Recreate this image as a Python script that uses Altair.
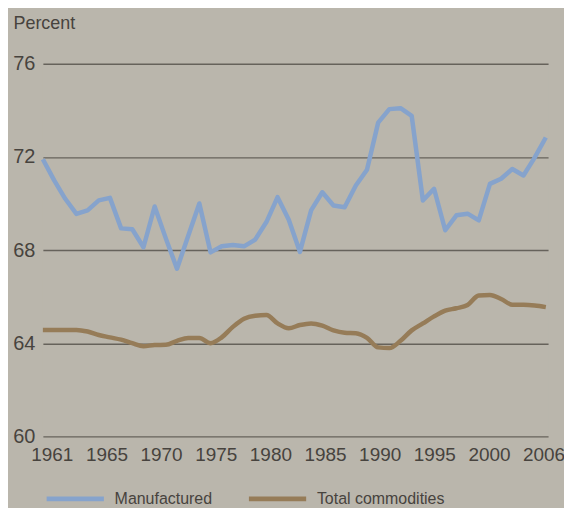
import altair as alt
import pandas as pd

years = list(range(1961, 2007))

manufactured = [
    71.9, 71.0, 70.2, 69.55, 69.7, 70.13, 70.24, 68.93, 68.89, 68.12,
    69.87, 68.5, 67.2, 68.6, 70.0, 67.9, 68.16, 68.22, 68.16, 68.45,
    69.2, 70.27, 69.3, 67.92, 69.7, 70.48, 69.91, 69.84, 70.77, 71.45,
    73.47, 74.05, 74.09, 73.76, 70.13, 70.63, 68.85, 69.49, 69.56, 69.27,
    70.84, 71.06, 71.48, 71.2, 71.97, 72.83,
]

commodities = [
    64.57, 64.57, 64.57, 64.57, 64.5, 64.35, 64.25, 64.15, 64.0, 63.87,
    63.92, 63.93, 64.1, 64.22, 64.22, 64.0, 64.25, 64.7, 65.05, 65.18,
    65.21, 64.85, 64.64, 64.78, 64.85, 64.75, 64.55, 64.45, 64.43, 64.23,
    63.82, 63.79, 64.1, 64.55, 64.85, 65.15, 65.4, 65.5, 65.64, 66.05,
    66.07, 65.9, 65.65, 65.65, 65.62, 65.55,
]

series_names = ["Manufactured", "Total commodities"]
series_colors = ["#86a3cc", "#967c58"]

tick_labels = ["1961", "1965", "1970", "1975", "1980", "1985", "1990", "1995", "2000", "2006"]
y_ticks = [60, 64, 68, 72, 76]

# label positions spread evenly across the axis, as in the original
first_pos, last_pos = 1961.8, 2005.8
step = (last_pos - first_pos) / (len(tick_labels) - 1)
tick_pos = [round(first_pos + i * step, 4) for i in range(len(tick_labels))]
label_array = "[" + ",".join("'" + t + "'" for t in tick_labels) + "]"
label_expr = f"{label_array}[round((datum.value - {first_pos}) / {step})]"

df = pd.concat([
    pd.DataFrame({"year": years, "value": manufactured, "series": series_names[0]}),
    pd.DataFrame({"year": years, "value": commodities, "series": series_names[1]}),
])

FONT = "Liberation Sans Narrow, Liberation Sans, sans-serif"
TEXT = "#47433e"
BG = "#bab6ac"

x = alt.X(
    "year:Q",
    scale=alt.Scale(domain=[1961, 2006.2], nice=False, zero=False),
    axis=alt.Axis(
        values=tick_pos, labelExpr=label_expr, grid=False, domain=False, ticks=False,
        labelPadding=9, labelFontSize=19, labelFont=FONT, labelColor=TEXT, title=None,
        labelFlush=False,
    ),
)
y = alt.Y(
    "value:Q",
    scale=alt.Scale(domain=[60, 76], nice=False, zero=False),
    axis=alt.Axis(
        values=y_ticks, grid=True, gridColor="#66625b", gridWidth=1.4, gridOpacity=1,
        domain=False, ticks=False, labelPadding=8, labelFontSize=20, labelFont=FONT,
        labelColor=TEXT, title="Percent", titleAngle=0, titleAlign="left",
        titleBaseline="middle", titleX=-30, titleY=-40, titleFont=FONT,
        titleFontSize=18, titleFontWeight="normal", titleColor=TEXT,
    ),
)
color = alt.Color(
    "series:N",
    scale=alt.Scale(domain=series_names, range=series_colors),
    legend=alt.Legend(
        orient="none", legendX=1, legendY=405, direction="horizontal", title=None,
        symbolType="stroke", symbolSize=3300, symbolStrokeWidth=5, labelFont=FONT,
        labelFontSize=16, labelColor=TEXT, labelOffset=8, columnPadding=26, padding=0,
    ),
)

base = alt.Chart(df).encode(x=x, y=y, color=color, detail="series:N")

manuf_line = base.transform_filter(
    alt.datum.series == series_names[0]
).mark_line(strokeWidth=4.5, interpolate="linear", strokeJoin="round")

comm_line = base.transform_filter(
    alt.datum.series == series_names[1]
).mark_line(strokeWidth=4.5, interpolate="monotone", strokeJoin="round")

chart = (
    alt.layer(manuf_line, comm_line)
    .properties(
        width=507, height=374,
        autosize=alt.AutoSizeParams(type="none"),
        padding={"left": 35, "top": 55, "right": 16, "bottom": 71},
        background=BG,
    )
    .configure_view(stroke=None, fill=BG)
)

chart.save("out.html", embed_options={"renderer": "svg", "actions": False})
